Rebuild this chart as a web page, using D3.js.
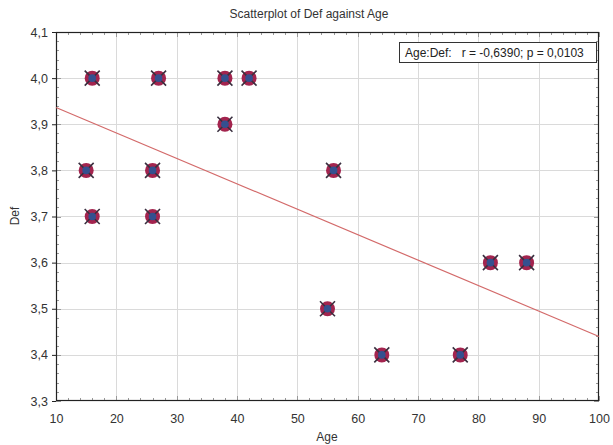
<!DOCTYPE html>
<html>
<head>
<meta charset="utf-8">
<script src="https://cdn.jsdelivr.net/npm/d3@7"></script>
<style>
  html, body { margin: 0; padding: 0; background: #fff; }
  svg { display: block; font-family: "Liberation Sans", Arial, sans-serif; }
</style>
</head>
<body>
<svg id="chart" width="613" height="445"></svg>
<script>
// Observations
const age = [16, 27, 38, 42, 38, 15, 26, 56, 16, 26, 82, 88, 55, 64, 77];
const def = [4.0, 4.0, 4.0, 4.0, 3.9, 3.8, 3.8, 3.8, 3.7, 3.7, 3.6, 3.6, 3.5, 3.4, 3.4];

// Axis ticks
const xTicks = [10, 20, 30, 40, 50, 60, 70, 80, 90, 100];
const yTicks = [3.3, 3.4, 3.5, 3.6, 3.7, 3.8, 3.9, 4.0, 4.1];

const titleText = "Scatterplot of Def against Age";
const xLabel = "Age";
const yLabel = "Def";
const statText = "Age:Def:   r = -0,6390; p = 0,0103";

const svg = d3.select("#chart");
const m = { left: 56, right: 599, top: 32, bottom: 401 };

const x = d3.scaleLinear().domain([10, 100]).range([m.left, m.right]);
const y = d3.scaleLinear().domain([3.3, 4.1]).range([m.bottom, m.top]);

const comma = v => d3.format(".1f")(v).replace(".", ",");

// Grid
const grid = svg.append("g").attr("stroke", "#dadada").attr("stroke-width", 1);
xTicks.slice(1, -1).forEach(t => grid.append("line")
  .attr("x1", Math.round(x(t)) + 0.5).attr("x2", Math.round(x(t)) + 0.5)
  .attr("y1", m.top).attr("y2", m.bottom));
yTicks.slice(1, -1).forEach(t => grid.append("line")
  .attr("y1", Math.round(y(t)) + 0.5).attr("y2", Math.round(y(t)) + 0.5)
  .attr("x1", m.left).attr("x2", m.right));

// Minor ticks inside the frame
const minor = svg.append("g").attr("stroke", "#999").attr("stroke-width", 1);
d3.range(10, 100.001, 2).forEach(v => {
  const px = Math.round(x(v)) + 0.5;
  const len = (v % 10 === 0) ? 5 : 3;
  minor.append("line").attr("x1", px).attr("x2", px).attr("y1", m.bottom).attr("y2", m.bottom - len);
  minor.append("line").attr("x1", px).attr("x2", px).attr("y1", m.top).attr("y2", m.top + len);
});
d3.range(0, 41).forEach(i => {
  const v = 3.3 + i * 0.02;
  const py = Math.round(y(v)) + 0.5;
  const len = (i % 5 === 0) ? 5 : 3;
  minor.append("line").attr("y1", py).attr("y2", py).attr("x1", m.right).attr("x2", m.right - len);
  minor.append("line").attr("y1", py).attr("y2", py).attr("x1", m.left).attr("x2", m.left + len);
});

// Frame
svg.append("rect")
  .attr("x", m.left + 0.5).attr("y", m.top + 0.5)
  .attr("width", m.right - m.left - 1).attr("height", m.bottom - m.top - 1)
  .attr("fill", "none").attr("stroke", "#222").attr("stroke-width", 1.2);

// Axes
const xAxis = svg.append("g").attr("transform", `translate(0,${m.bottom})`)
  .call(d3.axisBottom(x).tickValues(xTicks).tickSize(0).tickPadding(13).tickFormat(d3.format("d")));
const yAxis = svg.append("g").attr("transform", `translate(${m.left},0)`)
  .call(d3.axisLeft(y).tickValues(yTicks).tickSize(4).tickPadding(4).tickFormat(comma));
[xAxis, yAxis].forEach(a => {
  a.select(".domain").remove();
  a.selectAll("text").attr("fill", "#333").style("font-size", "12.5px")
    .style("font-family", "'Liberation Sans', Arial, sans-serif");
  a.selectAll("line").attr("stroke", "#222");
});

// Regression line (least squares over the observations)
const mx = d3.mean(age), my = d3.mean(def);
const sxy = d3.sum(age, (a, i) => (a - mx) * (def[i] - my));
const sxx = d3.sum(age, a => (a - mx) * (a - mx));
const slope = sxy / sxx, icpt = my - slope * mx;
svg.append("line")
  .attr("x1", x(10)).attr("y1", y(icpt + slope * 10))
  .attr("x2", x(100)).attr("y2", y(icpt + slope * 100))
  .attr("stroke", "#d36a6a").attr("stroke-width", 1.2);

// Markers
const pts = svg.append("g").selectAll("g").data(age.map((a, i) => [a, def[i]]))
  .join("g").attr("transform", d => `translate(${x(d[0])},${y(d[1])})`);
pts.append("circle").attr("r", 7.5).attr("fill", "#a3244e");
pts.append("path").attr("d", "M-7.5,-7.5L7.5,7.5M-7.5,7.5L7.5,-7.5")
  .attr("stroke", "#3a3040").attr("stroke-width", 1.6);
pts.append("circle").attr("r", 3.8).attr("fill", "#34508f");

// Statistic box
const box = svg.append("g");
box.append("rect").attr("x", 399.5).attr("y", 42.5).attr("width", 197).attr("height", 20)
  .attr("fill", "#fff").attr("stroke", "#333");
box.append("text").attr("x", 405).attr("y", 57).attr("fill", "#222")
  .style("font-size", "12px").style("white-space", "pre").text(statText);

// Titles
svg.append("text").attr("x", 309).attr("y", 18).attr("text-anchor", "middle")
  .attr("fill", "#333").style("font-size", "12px").text(titleText);
svg.append("text").attr("x", 327).attr("y", 441).attr("text-anchor", "middle")
  .attr("fill", "#333").style("font-size", "12px").text(xLabel);
svg.append("text").attr("transform", "translate(19,216) rotate(-90)").attr("text-anchor", "middle")
  .attr("fill", "#333").style("font-size", "12px").text(yLabel);
</script>
</body>
</html>
